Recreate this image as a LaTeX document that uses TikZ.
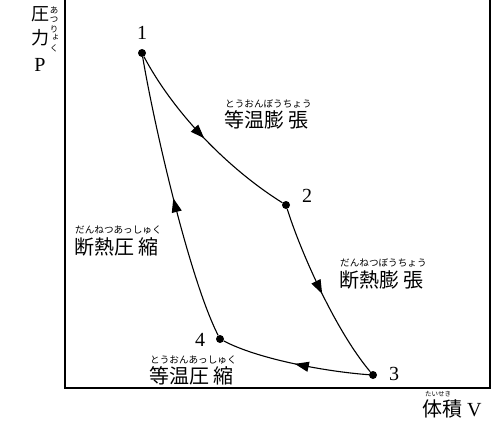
\documentclass[tikz,border=0pt]{standalone}
\usepackage{fontspec}
\newfontfamily\jp{Noto Sans CJK JP}
\newfontfamily\ser{Liberation Serif}
\usetikzlibrary{arrows.meta,decorations.markings}
\begin{document}
\begin{tikzpicture}[x=1pt,y=-1pt,
  dot/.style={circle,fill,inner sep=0pt,minimum size=8pt},
  num/.style={inner sep=0pt,font=\ser\fontsize{20}{20}\selectfont},
  kanji/.style={inner sep=0pt,anchor=west,font=\jp\fontsize{20}{20}\selectfont},
  kana/.style={inner sep=0pt,anchor=west,font=\jp\fontsize{9.6}{9.6}\selectfont},
  vkana/.style={inner sep=0pt,font=\jp\fontsize{8.5}{8.5}\selectfont},
  frame/.style={line width=1.2pt},
  flow/.style={line width=1.1pt,postaction={decorate},
    decoration={markings,mark=at position 0.5 with {\arrow{Triangle[length=14pt,width=10pt]}}}}]
\useasboundingbox (0,0) rectangle (500,420);
% frame
\coordinate (tl) at (65,-3);
\coordinate (bl) at (65,388);
\coordinate (br) at (490,388);
\coordinate (tr) at (490,-3);
\draw[frame] (tl) -- (bl);
\draw[frame] (br) -- (tr);
\draw[line width=2pt] (64.4,388) -- (490.6,388);
% axis labels
\node[inner sep=0pt,font=\jp\fontsize{18}{18}\selectfont] (yk1) at (40,14) {圧};
\node[inner sep=0pt,font=\jp\fontsize{18}{18}\selectfont] (yk2) at (40,38) {力};
\node[num] (yp) at (40,65) {P};
\node[vkana] (v1) at (54,10) {あ};
\node[vkana] (v2) at (54,20) {つ};
\node[vkana] (v3) at (54,29.5) {り};
\node[vkana] (v4) at (55.5,37.5) {ょ};
\node[vkana] (v5) at (54,48) {く};
\node[inner sep=0pt,anchor=west,font=\jp\fontsize{6.5}{6.5}\selectfont] (xr) at (425,394) {たいせき};
\node[inner sep=0pt,anchor=west,font=\ser\fontsize{20}{20}\selectfont] (xl) at (422,409) {{\jp\fontsize{20}{20}\selectfont 体積} V};
% state points
\node[dot] (p1) at (142,53) {};
\node[dot] (p2) at (286,205) {};
\node[dot] (p3) at (373,375) {};
\node[dot] (p4) at (220,339) {};
\node[num] (n1) at (142,33) {1};
\node[num] (n2) at (307,196) {2};
\node[num] (n3) at (394,374) {3};
\node[num] (n4) at (200,340) {4};
% processes
\draw[flow] (p1) .. controls (175,115) and (230,170) .. (p2);
\draw[flow] (p2) .. controls (300,250) and (335,330) .. (p3);
\draw[flow] (p3) .. controls (330,372) and (260,360) .. (p4);
\draw[flow] (p4) .. controls (190,280) and (155,130) .. (p1);
% labels
\node[kana] (r1) at (225,104) {とうおんぼうちょう};
\node[kanji] (t1) at (224,120) {等温膨 張};
\node[kana] (r2) at (340,263) {だんねつぼうちょう};
\node[kanji] (t2) at (339,280) {断熱膨 張};
\node[kana] (r3) at (75,230) {だんねつあっしゅく};
\node[kanji] (t3) at (74,247) {断熱圧 縮};
\node[kana] (r4) at (150,360) {とうおんあっしゅく};
\node[kanji] (t4) at (149,376) {等温圧 縮};
\end{tikzpicture}
\end{document}
